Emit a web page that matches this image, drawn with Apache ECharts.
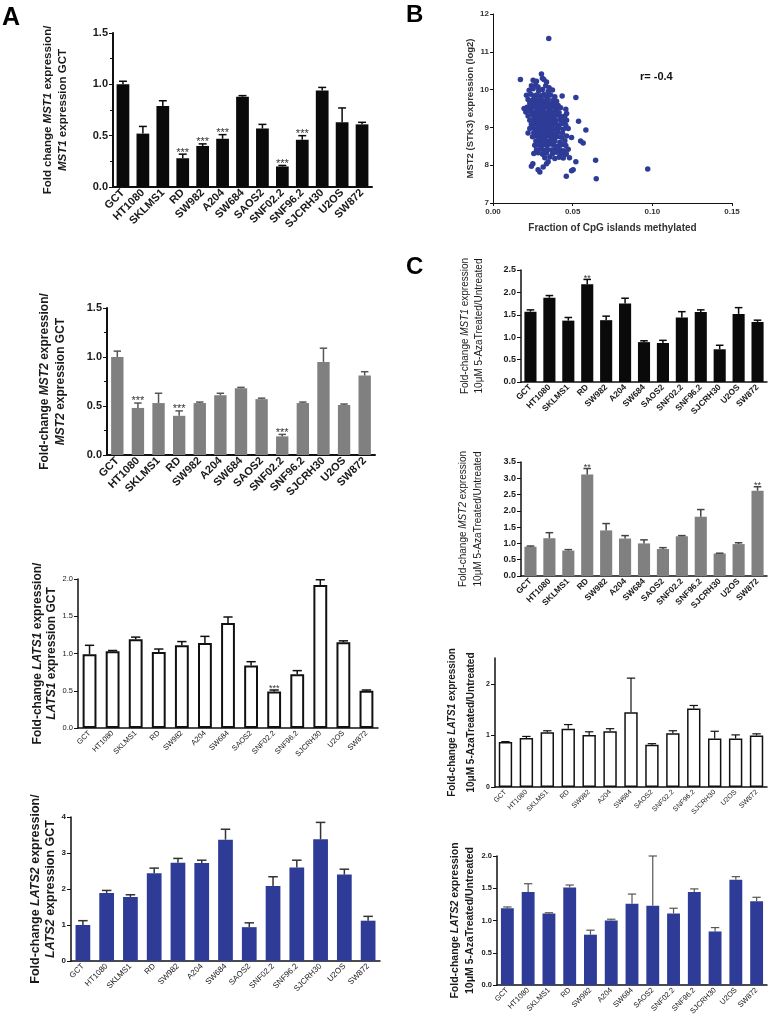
<!DOCTYPE html>
<html><head><meta charset="utf-8">
<script src="https://cdn.jsdelivr.net/npm/echarts@6/dist/echarts.min.js"></script>
<style>html,body{margin:0;padding:0;background:#fff}#c{width:772px;height:1020px}</style>
</head><body><div id="c"></div><script>
const cells = ['GCT','HT1080','SKLMS1','RD','SW982','A204','SW684','SAOS2','SNF02.2','SNF96.2','SJCRH30','U2OS','SW872'];

// Panel A – relative to GCT
const mst1Val = [1.00,0.52,0.79,0.28,0.40,0.47,0.88,0.57,0.20,0.46,0.94,0.63,0.61];
const mst1Err = [0.03,0.07,0.05,0.04,0.02,0.04,0.01,0.04,0.01,0.04,0.03,0.14,0.02];
const mst1Sig = ['','','','***','***','***','','','***','***','','',''];

const mst2Val = [1.00,0.48,0.53,0.40,0.53,0.61,0.68,0.57,0.19,0.53,0.95,0.51,0.81];
const mst2Err = [0.06,0.05,0.10,0.05,0.01,0.02,0.01,0.01,0.02,0.01,0.14,0.01,0.04];
const mst2Sig = ['','***','','***','','','','','***','','','',''];

const lats1Val = [0.99,1.03,1.19,1.02,1.11,1.14,1.41,0.84,0.49,0.72,1.92,1.15,0.50];
const lats1Err = [0.12,0.01,0.03,0.04,0.05,0.09,0.08,0.05,0.02,0.05,0.07,0.02,0.01];
const lats1Sig = ['','','','','','','','','***','','','',''];

const lats2Val = [1.00,1.89,1.78,2.44,2.73,2.72,3.37,0.94,2.08,2.60,3.38,2.40,1.12];
const lats2Err = [0.12,0.07,0.06,0.14,0.12,0.08,0.29,0.12,0.26,0.20,0.47,0.15,0.12];

// Panel C – 5-Aza treated / untreated
const azaMst1Val = [1.57,1.88,1.37,2.18,1.38,1.75,0.89,0.87,1.44,1.56,0.73,1.52,1.34];
const azaMst1Err = [0.04,0.05,0.07,0.11,0.09,0.12,0.03,0.06,0.13,0.05,0.09,0.14,0.04];
const azaMst1Sig = ['','','','**','','','','','','','','',''];

const azaMst2Val = [0.90,1.16,0.78,3.12,1.40,1.15,1.00,0.83,1.22,1.82,0.69,0.98,2.62];
const azaMst2Err = [0.02,0.17,0.03,0.18,0.21,0.09,0.11,0.04,0.02,0.22,0.01,0.04,0.12];
const azaMst2Sig = ['','','','**','','','','','','','','','**'];

const azaLats1Val = [0.87,0.95,1.06,1.13,1.01,1.08,1.45,0.82,1.04,1.52,0.94,0.94,1.00];
const azaLats1Err = [0.01,0.03,0.03,0.08,0.06,0.05,0.66,0.02,0.05,0.06,0.14,0.07,0.03];

const azaLats2Val = [1.19,1.44,1.11,1.51,0.78,1.00,1.26,1.23,1.11,1.44,0.83,1.63,1.30];
const azaLats2Err = [0.02,0.13,0.01,0.04,0.07,0.02,0.15,0.77,0.08,0.05,0.06,0.05,0.06];

// Panel B – scatter (fraction methylated, log2 expression)
const scatterOutliers = [[0.035,11.35],[0.0172,10.27],[0.0304,10.41],[0.031,10.3],[0.0195,9.5],[0.022,8.85],[0.0434,9.83],[0.052,9.79],[0.0537,9.16],[0.0583,8.93],[0.055,8.64],[0.0566,8.59],[0.052,8.09],[0.0644,8.13],[0.0971,7.9],[0.0648,7.64],[0.046,7.71],[0.0493,7.85],[0.0503,7.88],[0.025,8.04],[0.0241,7.97],[0.0283,7.88],[0.0294,7.82],[0.0315,7.95],[0.0336,8.04],[0.0346,8.09],[0.048,8.2],[0.046,8.3]];
const scatterCore = [
 [0.0252,10.25],[0.0273,10.22],[0.0319,10.27],[0.0336,10.2],
 [0.0241,10.1],[0.0268,10.12],[0.0283,10.07],[0.0331,10.1],[0.0352,10.05],
 [0.0227,9.98],[0.0252,10.02],[0.0287,9.97],[0.0311,10.0],[0.0346,9.95],[0.0373,9.99],
 [0.021,9.85],[0.0237,9.88],[0.0256,9.83],[0.0273,9.86],[0.0298,9.84],[0.0319,9.87],[0.0336,9.82],[0.0361,9.86],[0.0388,9.81],
 [0.022,9.74],[0.0248,9.72],[0.0264,9.76],[0.0283,9.73],[0.0304,9.75],[0.0325,9.7],[0.0346,9.74],[0.0378,9.72],[0.0399,9.69],
 [0.0231,9.63],[0.0256,9.61],[0.0273,9.65],[0.029,9.6],[0.0304,9.64],[0.0319,9.62],[0.0336,9.66],[0.0352,9.6],[0.0367,9.63],[0.0392,9.62],[0.0409,9.58],
 [0.0214,9.53],[0.0241,9.51],[0.0262,9.55],[0.0279,9.52],[0.0294,9.54],[0.0311,9.5],[0.0325,9.53],[0.034,9.56],[0.0357,9.51],[0.0382,9.53],[0.0399,9.49],[0.0424,9.52],[0.0457,9.48],
 [0.0206,9.41],[0.0231,9.43],[0.0252,9.39],[0.0269,9.42],[0.0283,9.4],[0.0298,9.44],[0.0315,9.41],[0.0331,9.38],[0.0346,9.42],[0.0367,9.4],[0.0388,9.43],[0.0415,9.39],[0.0462,9.37],
 [0.022,9.3],[0.0248,9.32],[0.0266,9.28],[0.0281,9.31],[0.0296,9.29],[0.0313,9.33],[0.0327,9.3],[0.0342,9.27],[0.0361,9.31],[0.0378,9.29],[0.0399,9.32],[0.043,9.28],[0.0451,9.3],
 [0.0231,9.19],[0.0256,9.21],[0.0273,9.17],[0.0287,9.2],[0.0304,9.18],[0.0319,9.22],[0.0336,9.19],[0.0352,9.16],[0.0371,9.2],[0.0392,9.18],[0.042,9.21],[0.0445,9.17],[0.0462,9.19],
 [0.0241,9.08],[0.0264,9.1],[0.0281,9.06],[0.0296,9.09],[0.0311,9.07],[0.0325,9.11],[0.0342,9.08],[0.0359,9.05],[0.0378,9.09],[0.0403,9.07],[0.043,9.1],[0.0457,9.06],
 [0.0231,8.97],[0.0252,8.99],[0.0273,8.95],[0.029,8.98],[0.0306,8.96],[0.0321,9.0],[0.0336,8.97],[0.0352,8.94],[0.0373,8.98],[0.0392,8.96],[0.0415,8.99],[0.0441,8.95],[0.0472,8.97],
 [0.0256,8.86],[0.0279,8.88],[0.0298,8.84],[0.0315,8.87],[0.0331,8.85],[0.0348,8.89],[0.0367,8.86],[0.0388,8.83],[0.0409,8.87],[0.0436,8.85],
 [0.0248,8.75],[0.0273,8.77],[0.0292,8.73],[0.0311,8.76],[0.0327,8.74],[0.0346,8.78],[0.0365,8.75],[0.0384,8.72],[0.0405,8.76],[0.043,8.74],[0.0462,8.77],[0.0493,8.73],
 [0.0269,8.64],[0.029,8.66],[0.0308,8.62],[0.0325,8.65],[0.0344,8.63],[0.0363,8.67],[0.0388,8.64],[0.042,8.61],[0.0451,8.65],
 [0.0262,8.53],[0.0283,8.55],[0.0304,8.51],[0.0321,8.54],[0.034,8.52],[0.0361,8.56],[0.0382,8.53],[0.0405,8.5],[0.043,8.54],[0.0457,8.52],
 [0.0273,8.41],[0.0298,8.43],[0.0319,8.39],[0.034,8.42],[0.0367,8.4],[0.0394,8.44],[0.042,8.41],[0.0445,8.38],[0.0472,8.42],
 [0.0256,8.31],[0.0283,8.33],[0.0311,8.29],[0.0336,8.32],[0.0373,8.3],[0.0399,8.34],[0.0424,8.31],[0.0451,8.28],
 [0.0325,8.2],[0.0357,8.22],[0.0388,8.18],[0.0415,8.21],[0.0441,8.19]
];

const FF = 'Liberation Sans, Arial, sans-serif';
const TXT = '#1a1a1a';

const grids = [
  {left:113, top:33, width:259, height:154},   // 0 A MST1
  {left:107, top:308, width:268, height:147},  // 1 A MST2
  {left:78,  top:579, width:300, height:149},  // 2 A LATS1
  {left:71,  top:817, width:309, height:144},  // 3 A LATS2
  {left:493, top:14,  width:239, height:189},  // 4 B scatter
  {left:521, top:270, width:246, height:112},  // 5 C MST1
  {left:521, top:462, width:246, height:114},  // 6 C MST2
  {left:495, top:658, width:272, height:129},  // 7 C LATS1
  {left:497, top:856, width:270, height:129}   // 8 C LATS2
];

function catAxis(gi, fs, bold, lw) {
  return {type:'category', gridIndex:gi, data:cells,
    axisLine:{lineStyle:{color:'#111', width:lw}},
    axisTick:{alignWithLabel:true, length:3, lineStyle:{color:'#111', width:1}},
    axisLabel:{rotate:45, interval:0, fontSize:fs, fontWeight:bold?'bold':'normal', color:TXT, margin:4, fontFamily:FF}};
}
function valAxis(gi, o) {
  const rich = {i:{fontStyle:'italic', fontWeight:o.nameBold?'bold':'normal', fontSize:o.nameFs, fontFamily:FF, color:TXT}};
  return {type:'value', gridIndex:gi, min:o.min, max:o.max, interval:o.interval,
    splitLine:{show:false},
    axisLine:{show:true, lineStyle:{color:'#111', width:o.lw||1.5}},
    axisTick:{show:true, length:4, lineStyle:{color:'#111'}},
    minorTick:{show:!!o.minor, splitNumber:2, length:3, lineStyle:{color:'#111'}},
    axisLabel:{fontSize:o.fs, fontWeight:o.bold?'bold':'normal', color:TXT, fontFamily:FF, margin:5,
      formatter: v => o.dec===0 ? String(v) : v.toFixed(o.dec), showMaxLabel:o.showMax!==false},
    name:o.name, nameLocation:'middle', nameRotate:90, nameGap:o.gap,
    nameTextStyle:{fontSize:o.nameFs, fontWeight:o.nameBold?'bold':'normal', color:TXT, fontFamily:FF, lineHeight:o.lh||o.nameFs+3, align:'center', rich:rich}};
}

function barSeries(gi, vals, style, bw) {
  return {type:'bar', xAxisIndex:gi, yAxisIndex:gi, data:vals, barWidth:bw, itemStyle:style, z:2, silent:true};
}
function errSeries(gi, vals, errs, marks, color, lw, capFrac, markFs) {
  return {type:'custom', xAxisIndex:gi, yAxisIndex:gi, z:3, silent:true,
    data: vals.map((v,i)=>[i, v, v+errs[i]]),
    renderItem: (params, api) => {
      const i = api.value(0);
      const b = api.coord([i, api.value(1)]);
      const t = api.coord([i, api.value(2)]);
      const w = api.size([1,0])[0]*capFrac;
      const ch = [
        {type:'line', shape:{x1:b[0],y1:b[1],x2:t[0],y2:t[1]}, style:{stroke:color, lineWidth:lw}},
        {type:'line', shape:{x1:t[0]-w,y1:t[1],x2:t[0]+w,y2:t[1]}, style:{stroke:color, lineWidth:lw}}
      ];
      const m = marks ? marks[params.dataIndex] : '';
      if (m) ch.push({type:'text', style:{text:m, x:t[0], y:t[1]+markFs*0.35, align:'center', verticalAlign:'bottom', fontSize:markFs, fontFamily:FF, fill:'#333'}});
      return {type:'group', children:ch};
    }};
}

const xAxes = [
  catAxis(0, 11, true, 2),
  catAxis(1, 11, true, 2),
  catAxis(2, 7.5, false, 1.5),
  catAxis(3, 8, false, 1.5),
  {type:'value', gridIndex:4, min:0, max:0.15, interval:0.05, splitLine:{show:false},
    axisLine:{lineStyle:{color:'#111'}}, axisTick:{length:3, lineStyle:{color:'#111'}},
    axisLabel:{fontSize:8, fontWeight:'bold', color:'#333', fontFamily:FF, margin:5, formatter:v=>v.toFixed(2)},
    name:'Fraction of CpG islands methylated', nameLocation:'middle', nameGap:20,
    nameTextStyle:{fontSize:10, fontWeight:'bold', color:'#333', fontFamily:FF}},
  catAxis(5, 8.5, true, 1.5),
  catAxis(6, 8.5, true, 1.5),
  catAxis(7, 7, false, 1.5),
  catAxis(8, 7.5, false, 1.5)
];
const yAxes = [
  valAxis(0, {min:0,max:1.5,interval:0.5,dec:1,fs:11,bold:true,minor:true,lw:2,
    name:'Fold change {i|MST1} expression/\n{i|MST1} expression GCT', nameFs:11.5, nameBold:true, gap:43, lh:15}),
  valAxis(1, {min:0,max:1.5,interval:0.5,dec:1,fs:11,bold:true,minor:true,lw:2,
    name:'Fold-change {i|MST2} expression/\n{i|MST2} expression GCT', nameFs:12, nameBold:true, gap:38, lh:16}),
  valAxis(2, {min:0,max:2,interval:0.5,dec:1,fs:7.5,bold:false,
    name:'Fold-change {i|LATS1} expression/\n{i|LATS1} expression GCT', nameFs:12, nameBold:true, gap:19, lh:14}),
  valAxis(3, {min:0,max:4,interval:1,dec:0,fs:8,bold:true,
    name:'Fold-change {i|LATS2} expression/\n{i|LATS2} expression GCT', nameFs:12.5, nameBold:true, gap:11, lh:15}),
  {type:'value', gridIndex:4, min:7, max:12, interval:1, splitLine:{show:false},
    axisLine:{show:true, lineStyle:{color:'#111'}}, axisTick:{show:true, length:3, lineStyle:{color:'#111'}},
    axisLabel:{fontSize:8, fontWeight:'bold', color:'#333', fontFamily:FF, margin:4},
    name:'MST2 (STK3) expression (log2)', nameLocation:'middle', nameRotate:90, nameGap:18,
    nameTextStyle:{fontSize:9.5, fontWeight:'bold', color:'#333', fontFamily:FF}},
  valAxis(5, {min:0,max:2.5,interval:0.5,dec:1,fs:9,bold:true,
    name:'Fold-change {i|MST1} expression\n10μM 5-AzaTreated/Untreated', nameFs:10, nameBold:false, gap:35, lh:14}),
  valAxis(6, {min:0,max:3.5,interval:0.5,dec:1,fs:9,bold:true,
    name:'Fold-change {i|MST2} expression\n10μM 5-AzaTreated/Untreated', nameFs:10, nameBold:false, gap:35, lh:15}),
  valAxis(7, {min:0,max:2.5,interval:1,dec:0,fs:7,bold:true,showMax:false,
    name:'Fold-change {i|LATS1} expression\n10μM 5-AzaTreated/Untreated', nameFs:10, nameBold:true, gap:14, lh:19}),
  valAxis(8, {min:0,max:2,interval:0.5,dec:1,fs:7.5,bold:true,
    name:'Fold-change {i|LATS2} expression\n10μM 5-AzaTreated/Untreated', nameFs:10.5, nameBold:true, gap:17, lh:15})
];

const BLACK = '#0a0a0a', GREY = '#808080', BLUE = '#2e3c98';
const series = [
  barSeries(0, mst1Val, {color:BLACK}, '64%'),
  errSeries(0, mst1Val, mst1Err, mst1Sig, BLACK, 1.5, 0.2, 11),
  barSeries(1, mst2Val, {color:GREY}, '60%'),
  errSeries(1, mst2Val, mst2Err, mst2Sig, '#555', 1.5, 0.18, 11),
  barSeries(2, lats1Val, {color:'#fff', borderColor:'#111', borderWidth:2}, '60%'),
  errSeries(2, lats1Val, lats1Err, lats1Sig, '#111', 1.5, 0.2, 9),
  barSeries(3, lats2Val, {color:BLUE}, '62%'),
  errSeries(3, lats2Val, lats2Err, null, '#333', 1.5, 0.2, 9),
  {type:'scatter', xAxisIndex:4, yAxisIndex:4, data:scatterCore.concat(scatterOutliers), symbolSize:5.5,
    itemStyle:{color:BLUE, opacity:1}, silent:true},
  barSeries(5, azaMst1Val, {color:BLACK}, '64%'),
  errSeries(5, azaMst1Val, azaMst1Err, azaMst1Sig, BLACK, 1.5, 0.2, 9),
  barSeries(6, azaMst2Val, {color:GREY}, '64%'),
  errSeries(6, azaMst2Val, azaMst2Err, azaMst2Sig, '#444', 1.5, 0.2, 9),
  barSeries(7, azaLats1Val, {color:'#fff', borderColor:'#111', borderWidth:1.5}, '64%'),
  errSeries(7, azaLats1Val, azaLats1Err, null, '#111', 1.2, 0.2, 9),
  barSeries(8, azaLats2Val, {color:BLUE}, '62%'),
  errSeries(8, azaLats2Val, azaLats2Err, null, '#555', 1.2, 0.2, 9)
];

const chart = echarts.init(document.getElementById('c'), null, {renderer:'canvas'});
chart.setOption({
  animation:false,
  backgroundColor:'#fff',
  textStyle:{fontFamily:FF},
  grid:grids,
  xAxis:xAxes,
  yAxis:yAxes,
  series:series,
  graphic:[
    {type:'text', left:2, top:6, style:{text:'A', fontSize:25, fontWeight:'bold', fill:'#000', fontFamily:FF}},
    {type:'text', left:406, top:3, style:{text:'B', fontSize:24, fontWeight:'bold', fill:'#000', fontFamily:FF}},
    {type:'text', left:406, top:255, style:{text:'C', fontSize:24, fontWeight:'bold', fill:'#000', fontFamily:FF}},
    {type:'text', left:640, top:71, style:{text:'r= -0.4', fontSize:11, fontWeight:'bold', fill:'#111', fontFamily:FF}}
  ]
});
</script></body></html>
